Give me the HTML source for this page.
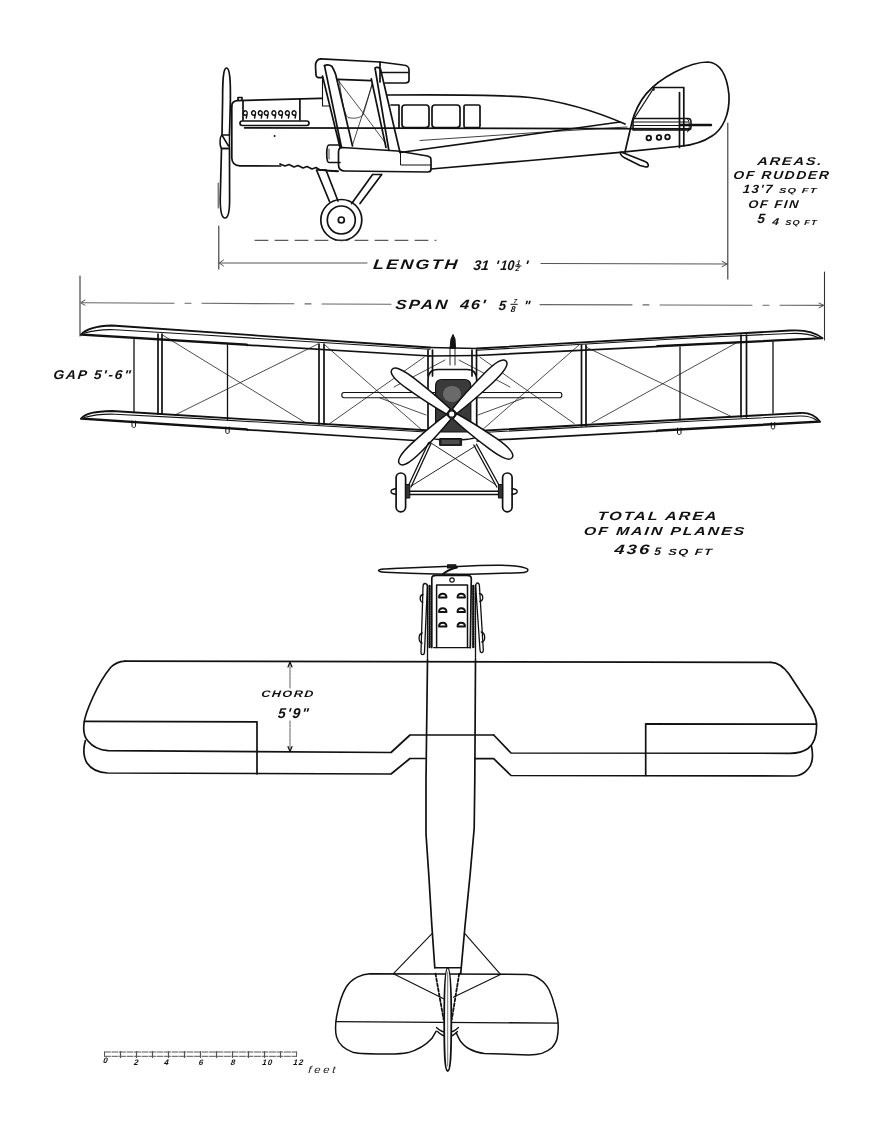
<!DOCTYPE html>
<html><head><meta charset="utf-8"><title>Biplane three-view</title>
<style>
html,body{margin:0;padding:0;background:#fff;}
body{width:881px;height:1132px;overflow:hidden;}
svg{display:block;will-change:transform;}
text{font-family:"Liberation Sans",sans-serif;font-style:italic;fill:#111;}
.lbl text{stroke:none;font-weight:bold;letter-spacing:0.12em;}
.lbl .sc text{stroke:none;}
</style></head><body>
<svg width="881" height="1132" viewBox="0 0 881 1132">
<rect width="881" height="1132" fill="#fff"/>
<g fill="none" stroke="#111" stroke-width="1.7" stroke-linejoin="round" stroke-linecap="round">

<!-- ================= SIDE VIEW ================= -->
<g id="side">
<!-- propeller -->
<path d="M226.5,68 C229.8,68 230.6,80 230.4,100 L229.5,135 L222,135 L222.6,100 C222.6,80 223.2,68 226.5,68 Z"/>
<path d="M222,135 C219.5,137 219.5,146 221.5,148.5 L229.5,148.5 L229.5,135 M222.5,136 L228.5,146" stroke-width="1.5"/>
<path d="M221.5,148.5 L229.5,148.5 L229.6,200 C229.6,212 228,218 225,218 C221.5,218 220.3,212 220.2,200 Z"/>
<path d="M218.2,183 L218.2,208" stroke-width="0.8"/>
<!-- cowling / nose -->
<path d="M231.8,106 C231.8,102.5 233.5,101 237,100.6 L320,98.3 L322,98.3"/>
<path d="M238,100 L238,97.5 L242,97.5 L242,100"/>
<path d="M231.8,106 L231.8,157.7 C231.8,162.5 234.5,165.5 240,165.8 L280.6,166"/>
<path d="M280,164 L285,166 L289,164.5 L294,167 L298,165.5 L303,168 L307,166.5 L312,169 L316,167.5 L320,170 L330,171 L338,171.5"/>
<!-- exhaust panel -->
<path d="M243,101 L243,120 M299.9,99 L299.9,120"/>
<rect x="240" y="121" width="69" height="4.5" rx="2.2"/>
<g stroke-width="1.4">
<path d="M247.3,113 a2,2.2 0 1 0 -0.2,1 L246.3,118 M255.6,113 a2,2.2 0 1 0 -0.2,1 L254.6,118 M262.3,113 a2,2.2 0 1 0 -0.2,1 L261.3,118 M268.3,113 a2,2.2 0 1 0 -0.2,1 L267.3,118 M275.9,113 a2,2.2 0 1 0 -0.2,1 L274.9,118 M282.6,113 a2,2.2 0 1 0 -0.2,1 L281.6,118 M289.4,113 a2,2.2 0 1 0 -0.2,1 L288.4,118 M296.1,113 a2,2.2 0 1 0 -0.2,1 L295.1,118"/>
</g>
<circle cx="274.6" cy="135.9" r="1" fill="#111" stroke="none"/>
<!-- longeron -->
<path d="M244.6,127.8 L690,128.8"/>
<!-- fuselage top (rear) -->
<path d="M387,95 C440,94.5 500,95 530,97.5 C560,101 595,111 625,124"/>
<!-- fuselage bottom rear -->
<path d="M431,169 L530,160.5 L620,152.4 L682,146"/>
<!-- converging lines -->
<path d="M400,152.5 L530,134.5 L620,122"/>
<path d="M420,140.5 L540,132.3 L627,127" stroke-width="0.8"/>
<!-- windows -->
<path d="M391,105 L399,105 L399,128"/>
<rect x="402" y="105" width="27" height="22.5" rx="3"/>
<rect x="432" y="105" width="28" height="22.5" rx="3"/>
<rect x="464" y="105" width="16" height="22.5" rx="1.5"/>
<!-- upper wing -->
<path d="M321,58.8 C340,60 360,61 380,62 L403,65 C408,65.5 409,67 409,70 L409,80 C409,82 408,83 405,83 L385,83"/>
<path d="M380,62 L380,82 M380,72.5 L408,72.5"/>
<path d="M321,58.8 C317,59 315.5,62 315.5,66 L316,75 C316,77.5 318,78 322.5,77.5"/>
<path d="M338,79.4 L371,80.6"/>
<!-- struts -->
<path d="M324.5,65.6 C327,64.5 330,65 332,66.5 C334,70 336,74 336.5,78 L352.5,146"/>
<path d="M324.5,65.6 L341.5,147.5 M322.5,76 L340,147.5"/>
<path d="M375,68 C376,67 379,67 380.5,69 L400,152.5 M375,68 L388.8,150 M371.3,78.8 L386,147.5"/>
<path d="M322.5,77.5 L322.5,106 L329,106" stroke-width="1.1"/>
<!-- wires -->
<g stroke-width="0.75">
<path d="M336,77.5 L363.8,113.8 L385,142.5"/>
<path d="M372.5,83.8 L352.5,145"/>
<path d="M339,80 C342,100 344,114 348,117.5 C354,119 360,118 363,115 C366,106 369,95 372,84"/>
</g>
<!-- engine cylinder -->
<path d="M340,145 L329,145 C326,145 326,162.5 329,162.5 L340,162.5"/>
<path d="M329,149 L329,159" stroke-width="0.8"/>
<!-- lower wing -->
<path d="M342.5,147.5 L397.5,151 L427.5,156 C431,157 431,158 431,161 L431,169 C431,171 430,172 428,172 L345,171 C340,171 338.5,169 338.5,165 L338.5,152 C338.5,149 340,147.5 342.5,147.5 Z"/>
<path d="M400.5,153 L400.5,165 L431,165" stroke-width="1"/>
<path d="M338,171 L320,170" />
<!-- undercarriage -->
<path d="M316.5,170 L329.5,201.5 M326,170 L338,201 M316.5,170 L326,170"/>
<path d="M372.6,174.5 L351.7,203.5 M381.7,174.5 L360,203.5 M372.6,174.5 L381.7,174.5"/>
<circle cx="341.3" cy="220" r="20.5"/>
<circle cx="341.3" cy="220" r="14"/>
<circle cx="341.3" cy="220" r="3"/>
<!-- ground dashes -->
<path d="M255,240.3 L436,240.3" stroke-dasharray="13,7" stroke-width="1" stroke="#333"/>
<!-- rudder & fin -->
<path d="M625,152 L632,122 C638,100 650,85 675,72 C690,64 700,62 708,62 C720,63 727,75 729,95 C730,115 722,130 712,136 C703,142 692,145 682,146"/>
<path d="M653.8,90 L653.8,87.5 L683.8,87.5 L683.8,146 M679.5,92.5 L679.5,147.5"/>
<path d="M653.5,88.5 L632.5,121" stroke-width="1.3"/>
<path d="M633,118.5 L688,118.5 C690,118.5 691,120 691,122 L691,127 C691,129 690,130 688,130 L633,130 Z" stroke-width="1.6"/>
<path d="M634,122 L688,122 M634,125.5 L688,125.5" stroke-width="1.2"/>
<path d="M680,125 L711,125" stroke-width="2.4"/>
<path d="M687.5,119 C690,119 690,132 687.5,132" stroke-width="1"/>
<g stroke-width="1.8"><circle cx="648.8" cy="138" r="2.3"/>
<circle cx="659" cy="137.5" r="2.3"/>
<circle cx="667.5" cy="137" r="2.3"/></g>
<!-- tail skid -->
<path d="M621,152 L645,161.5 C649,163 649.5,167 646,167 L640,165.5 L625,158 C621,156 619.5,153 621,152 Z" fill="#fff" stroke-width="1.6"/>
</g>

<!-- dimension lines (side) -->
<g stroke-width="1.1" stroke="#333">
<path d="M218.8,226 L218.8,269"/>
<path d="M727.8,123 L727.8,279"/>
</g>
<g stroke-width="1" stroke="#555">
<path d="M219,263 L367,263 M541,263.5 L727,264"/>
<path d="M223.5,260 L219.3,263 L223.5,266 M722,261.3 L727.3,264 L722,266.7"/>
</g>

<!-- ================= FRONT VIEW ================= -->
<g id="front">
<!-- span dimension -->
<path d="M80,276 L80,336 M824.5,272 L824.5,340" stroke-width="1.1" stroke="#333"/>
<path d="M82,302.7 L391,304.3 M540,304.6 L824,305.4" stroke-width="1.1" stroke="#666" stroke-dasharray="92,11,6,11"/>
<path d="M85,300 L80.5,302.7 L85,305.2 M819,303 L823.8,305.4 L819,307.8" stroke-width="1" stroke="#555"/>
<!-- upper wing left -->
<path d="M81,334.5 C86,329 95,326 112,325.5 L430,347.5" stroke-width="1.8"/>
<path d="M84,333.3 C95,330 105,329.3 115,329.8 L200,334.8 L430,349.3" stroke-width="1.1"/>
<path d="M81,335 L430,356"/>
<path d="M83,334.2 L247,344.2 L247.5,345.6" stroke-width="1.5"/>
<!-- upper center -->
<path d="M430,347.5 L477,348.5 M430,356 L477,355.5"/>
<!-- upper wing right -->
<path d="M477,348.5 L790,330.5 C805,329.5 815,332 822.5,338.2" stroke-width="1.8"/>
<path d="M477,350.3 L700,337.5 L790,333.5 C800,333 810,334 818,337.5" stroke-width="1.1"/>
<path d="M477,355.5 L822,338.4"/>
<path d="M657,346 L657,345.8 L820,338" stroke-width="1.5"/>
<!-- lower wing left -->
<path d="M81,418.5 C86,413 95,411.5 112,411 L430,430.5" stroke-width="1.8"/>
<path d="M84,417.5 C95,414.5 105,413.8 115,414.2 L200,418.6 L430,432.3" stroke-width="1.1"/>
<path d="M81,419 L430,441.5"/>
<path d="M83,418.3 L247,428.9 L247.5,430.3" stroke-width="1.5"/>
<!-- lower wing right -->
<path d="M477,431 L800,413 C808,412.5 815,415 820,421.5" stroke-width="1.8"/>
<path d="M477,432.8 L700,420.8 L800,416 C808,415.8 813,417.5 817,420.5" stroke-width="1.1"/>
<path d="M477,441 L820,422"/>
<path d="M656.5,431.5 L657,430.2 L818,421.2" stroke-width="1.5"/>
<!-- interplane struts -->
<path d="M158,334 L158,414 M162,334 L162,414"/>
<path d="M319,344 L319,424 M324,344 L324,424"/>
<path d="M581.5,345 L581.5,426 M586,345 L586,426"/>
<path d="M741,335 L741,417 M746.5,335 L746.5,417"/>
<path d="M134,339.5 L134,412.5 M227.5,345 L227.5,420 M680,346.8 L680,420 M773,341.6 L773,413" stroke-width="1.3"/>
<!-- fittings under lower wing -->
<path d="M132,421 L132,426 C132,428 135.5,428 135.5,426 L135.5,421 M225.8,427 L225.8,432 C225.8,434 229.2,434 229.2,432 L229.2,427 M677.5,428 L677.5,433 C677.5,435 681,435 681,433 L681,428 M771.3,422.5 L771.3,427.5 C771.3,429.5 774.7,429.5 774.7,427.5 L774.7,422.5" stroke-width="1"/>
<!-- wires -->
<g stroke-width="0.75">
<path d="M162.5,335 L305,422.4 M175,415 L318,344"/>
<path d="M585.4,346.8 L731.6,416.7 M591.8,423 L738,342"/>
<path d="M325.3,345.3 L421.2,429.4 M329.8,423.5 L424.2,357.1 M394,387 L445,360 M380,398 L426,415"/>
<path d="M578.7,345.3 L482.8,429.4 M574.2,423.5 L479.8,357.1 M510,387 L459,360 M524,398 L478,415"/>
</g>
<!-- tailplane -->
<path d="M344,392.5 L560,392.5 C562.5,392.5 562.5,397.7 560,397.7 L344,397.7 C341,397.7 341,392.5 344,392.5 Z" stroke-width="1.1"/>
<!-- fin top -->
<path d="M450,348 L451,339 L453,334.5 L455,339 L455.5,348 Z" fill="#111" stroke-width="1"/>
<path d="M450,348 L450,365 M455,348 L455,365" stroke-width="0.9"/>
<!-- cabane -->
<path d="M428,350 L428,376 M432.5,350 L432.5,376 M472,350 L472,376 M476.5,350 L476.5,376"/>
<!-- engine front -->
<path d="M428,436.7 L428,380 C428,373 432,369.5 438,369.5 L467,369.5 C473,369.5 476.7,373 476.7,380 L476.7,436.7"/>
<path d="M435.6,432 L435.6,386 C435.6,381 438,379.5 442,379.5 L464,379.5 C468.5,379.5 470.8,381 470.8,386 L470.8,432 Z" fill="#3a3a3a" stroke-width="1.2"/>
<ellipse cx="452" cy="394" rx="9" ry="8" fill="#6a6a6a" stroke="none"/>
<path d="M428,436.7 C432,441 472,441 476.7,436.7" stroke-width="1.4"/>
<path d="M440,438.5 L461.6,438.5 L461.6,445.4 L440,445.4 Z" fill="#222" stroke-width="1"/>
<path d="M442,441 L459,441 M442,443 L459,443" stroke="#bbb" stroke-width="0.6"/>
<!-- propeller (front) -->
<g fill="#fff" stroke-width="1.5">
<path transform="translate(451.7,414) rotate(216.6)" d="M4,-3.2 C15,-4.6 30,-5.8 50.5,-6.3 C66.5,-6.6 74.5,-4.5 74.5,0 C74.5,4.5 66.5,6.6 50.5,6.3 C30,5.8 15,4.6 4,3.2 Z"/>
<path transform="translate(451.7,414) rotate(-44.3)" d="M4,-3.2 C15,-4.6 30,-5.8 51.9,-6.3 C67.9,-6.6 75.9,-4.5 75.9,0 C75.9,4.5 67.9,6.6 51.9,6.3 C30,5.8 15,4.6 4,3.2 Z"/>
<path transform="translate(451.7,414) rotate(136.3)" d="M4,-3.2 C15,-4.6 30,-5.8 48.1,-6.3 C64.1,-6.6 72.1,-4.5 72.1,0 C72.1,4.5 64.1,6.6 48.1,6.3 C30,5.8 15,4.6 4,3.2 Z"/>
<path transform="translate(451.7,414) rotate(35.8)" d="M4,-3.2 C15,-4.6 30,-5.8 50.6,-6.3 C66.6,-6.6 74.6,-4.5 74.6,0 C74.6,4.5 66.6,6.6 50.6,6.3 C30,5.8 15,4.6 4,3.2 Z"/>
</g>
<circle cx="451.7" cy="414" r="3.2" fill="#fff" stroke-width="1.2"/>
<!-- landing gear -->
<path d="M408,491.3 L501,491.3 M408,494.4 L501,494.4" stroke-width="1.5"/>
<path d="M408.3,486 L428.5,442.7 M411,487 L431,443.5 M499.5,486 L476.5,444.3 M496.8,487 L473.8,445" stroke-width="1.3"/>
<path d="M412,485.6 L475.6,445.9 M429.5,442 L494.6,484" stroke-width="0.9"/>
<rect x="396.1" y="473" width="9.5" height="38.8" rx="4.75" fill="#fff"/>
<rect x="502.6" y="473" width="9.5" height="38.8" rx="4.75" fill="#fff"/>
<path d="M396,488.5 L392.5,489.5 C390.5,490 390.5,493 392.5,493.5 L396,494.5 M512.2,488.5 L515.7,489.5 C517.7,490 517.7,493 515.7,493.5 L512.2,494.5" stroke-width="1.4"/>
<path d="M406,484.5 L409.8,484.5 L409.8,498 L406,498 Z M502.2,484.5 L498.4,484.5 L498.4,498 L502.2,498 Z" fill="#333" stroke-width="1"/>
</g>

<!-- ================= TOP VIEW ================= -->
<g id="top">
<!-- propeller -->
<path d="M378.6,570.5 C379,569 385,568.8 400,568.2 L444,566.5 L458,566.5 C475,565.5 490,565 502,565.2 C515,565.5 524,566.5 527.6,569 C528.5,571 527,572.5 520,572.8 L470,574.3 L460,574.3 L435,574 C415,573.6 395,572.8 385,572.3 C380,572 378.6,571.5 378.6,570.5 Z" stroke-width="1.5"/>
<path d="M447.6,568 L447.6,564.8 L455.8,564.8 L455.8,568 Z" fill="#222" stroke-width="1.2"/>
<path d="M443,574 C446,571.5 450,569 457,567.5" stroke-width="1.8"/>
<!-- cowling -->
<path d="M431.8,647.6 L431.8,578 C432,576 433,575.3 436,575.3 L467,575.3 C469.5,575.3 471.3,576.3 471.3,578.5 L470.3,647.6"/>
<path d="M433.7,647.6 L470.3,647.6" stroke-width="1.3"/>
<path d="M436.6,647.6 L436.6,585 L467.5,585 L467.5,647.6" stroke-width="1.5"/>
<circle cx="452" cy="580" r="2.2" stroke-width="1.2"/>
<!-- exhaust stubs top view -->
<g stroke-width="1.9">
<path d="M439,597.5 C439,592.5 446.5,592.5 446.5,597.5 Z M457.5,597.5 C457.5,592.5 465,592.5 465,597.5 Z"/>
<path d="M439,612 C439,607 446.5,607 446.5,612 Z M457.5,612 C457.5,607 465,607 465,612 Z"/>
<path d="M439,626.5 C439,621.5 446.5,621.5 446.5,626.5 Z M457.5,626.5 C457.5,621.5 465,621.5 465,626.5 Z"/>
</g>
<!-- side strips dotted -->
<path d="M429.6,586 L429.6,647 M473.3,586 L473.3,647" stroke-width="2.4" stroke-dasharray="1.3,1.2"/>
<path d="M427.5,585 L427.5,660 M475.5,585 L475.5,660" stroke-width="1.3"/>
<!-- outboard struts -->
<path d="M425,583.5 C427,583.5 427.5,585 427.3,588 L424.5,652 C424.3,655.5 421,655.5 421,652 L423,587 C423,585 423.5,583.5 425,583.5 Z" stroke-width="1.3"/>
<path d="M477.5,583 C476,583 475.5,585 475.8,588 L480,650 C480.3,653.5 483.5,653.5 483.3,650 L479.5,587 C479.5,585 479,583 477.5,583 Z" stroke-width="1.3"/>
<path d="M423,594.5 C419.5,595 419,601 422.7,602.5 M422.2,633 C418.2,634 418,642 422,643 M479.4,593.5 C483.5,594 484,600.5 479.9,601.5 M481.2,632 C485.5,633 486,641 481.8,642" stroke-width="1.3"/>
<!-- wing leading edge -->
<path d="M125.2,661.1 L770.8,662.3"/>
<!-- left wing tip & trailing edges -->
<path d="M125.2,661.1 C119,661.5 115,663 111,667 C106,673 98,686 93,697 C88,708 85,716 84.2,722 C83,730 84,737 88,741 C92,746 99,750 108,750.6 L391,752.5 L410,735 L493.7,735"/>
<path d="M85.3,740.7 C83.3,748 83.5,757 87,763 C91,769 97,772.5 107.5,773 L391,774 L410,758.5 L425,758.5"/>
<path d="M84.4,721.3 L257,721.8 L257,774"/>
<!-- right wing -->
<path d="M770.8,662.3 C778,662.5 784,667 789,674 L812,709 C815,715 816.6,720 816.6,726 C816.6,736 814,744 808,748.5 C803,752 797,753.3 790,753.3 L511,753 L493.7,735"/>
<path d="M811.4,746 C813.3,754 813,764 808,769 C804,774 800,775.8 794,776 L511,775.5 L493.7,758.7 L475,758.7"/>
<path d="M816.5,724.2 L645.7,723.8 L645.7,775.5"/>
<!-- chord dimension -->
<path d="M290,663 L290,688 M290,721 L290,751" stroke-width="0.8" stroke="#333" stroke-dasharray="2.5,1"/>
<path d="M288,667 L290,662 L292,667 M288,746.5 L290,751.5 L292,746.5" stroke-width="1.2"/>
<!-- fuselage -->
<path d="M427.5,660 L426,780 L426,834 L428.9,876.5 L431.8,925 L434.8,967.8"/>
<path d="M475.5,660 L474.8,780 L474.2,828 L470.3,872.6 L465.1,925 L460.7,973.7"/>
<!-- tail struts -->
<path d="M393.4,973.7 L431.8,933.9 M500.5,974.4 L465.1,933.9" stroke-width="1.1"/>
<path d="M393.4,973.7 L443.6,998.8 M500.5,974.4 L453.3,997.3" stroke-width="1.1"/>
<!-- tailplane -->
<path d="M434.8,967.8 L460.7,967.8" stroke-width="1.5"/>
<g stroke-width="1.5">
<path d="M436.2,1031.2 L431.8,1038.6 C425,1046 416,1050.5 408.2,1052.6 C404,1053.5 398,1054.1 389,1054.1 C370,1054.1 360,1054 353.6,1052.6 C344,1049 338.5,1044 336.6,1037.1 C335,1031 335.5,1023 336.6,1016.5 C338.5,1006 342,994 346.2,987 C352,978 362,974 369.8,973.7 L527,974.4 C531,974.5 536,976 540.3,979.6 C543.5,981.5 546.5,985 549.2,990 C551.5,995 553.5,1001 555.1,1007.6 C556.5,1012 557.5,1016 558,1022.4 C558.3,1026 558.3,1032 557.3,1037.1 C557,1040.5 555,1044 552.1,1047.5 C549.5,1050 546,1052 541.8,1053.4 C538,1054.5 534,1054.9 528.5,1054.9 L484.3,1053.4 C479,1053 474,1051.5 469.5,1049 C466,1047.5 463.5,1045 460.7,1041.6 C459,1039 458,1037 456.2,1032.7"/>
<path d="M336,1021.6 L558,1023.1" stroke-width="1.3"/>
</g>
<path d="M435.5,973.7 L443.6,1019.4 M459.2,973.7 L451.8,1019.4" stroke-width="1.8" stroke-dasharray="3,2"/>
<!-- skid bracket -->
<path d="M436.5,1027.5 C440,1031 443,1032.5 447.7,1032.5 C452,1032.5 455,1031 458.4,1027.5 M437.5,1031.5 C441,1035 444,1036.5 447.7,1036.5 C451.5,1036.5 454.5,1035 457.5,1031.5" stroke-width="1.3"/>
<!-- rudder top view -->
<path d="M447.7,967.8 C450.5,967.8 451.3,990 451.3,1020 C451.3,1050 450.8,1071 447.7,1071 C444.6,1071 444.2,1050 444.2,1020 C444.2,990 444.9,967.8 447.7,967.8 Z" fill="#fff" stroke-width="1.8"/>
<path d="M447.7,972 L447.7,1066" stroke-width="0.8" stroke="#555"/>
</g>

<!-- scale bar -->
<g stroke-width="1" stroke="#555">
<path d="M104.5,1052 L296.6,1052 M104.5,1056.3 L296.6,1056.3 M104.5,1052 L104.5,1056.3 M296.6,1052 L296.6,1056.3" stroke-dasharray="6,1.5"/>
<path d="M120.5,1051.5 L120.5,1057.5 M136.5,1051.5 L136.5,1057.5 M152.5,1051.5 L152.5,1057.5 M168.5,1051.5 L168.5,1057.5 M184.5,1051.5 L184.5,1057.5 M200.5,1051.5 L200.5,1057.5 M216.5,1051.5 L216.5,1057.5 M232.5,1051.5 L232.5,1057.5 M248.5,1051.5 L248.5,1057.5 M264.5,1051.5 L264.5,1057.5 M280.5,1051.5 L280.5,1057.5" stroke-width="1.2"/>
</g>
</g>

<!-- ================= TEXT ================= -->
<g class="lbl">
<text transform="translate(372.7,269.3) skewX(-6)" x="0" y="0" font-size="13.8" textLength="86.5" lengthAdjust="spacingAndGlyphs">LENGTH</text>
<text transform="translate(473,269.8) skewX(-6)" x="0" y="0" font-size="14" style="letter-spacing:0" textLength="15.6" lengthAdjust="spacingAndGlyphs">31</text>
<text transform="translate(495,269.8) skewX(-6)" x="0" y="0" font-size="14" style="letter-spacing:0">'</text>
<text transform="translate(500,269.8) skewX(-6)" x="0" y="0" font-size="14" style="letter-spacing:0" textLength="13.8" lengthAdjust="spacingAndGlyphs">10</text>
<text transform="translate(516.2,264.8) skewX(-6)" x="0" y="0" font-size="7" style="letter-spacing:0">1</text>
<text transform="translate(515.2,271) skewX(-6)" x="0" y="0" font-size="7.5" style="letter-spacing:0">2</text>
<text transform="translate(524.5,269.8) skewX(-6)" x="0" y="0" font-size="14" style="letter-spacing:0">'</text>
<path d="M515,266 L521.5,266" stroke="#111" stroke-width="0.9"/>
<text transform="translate(395,309.2) skewX(-6)" x="0" y="0" font-size="13.3" textLength="54" lengthAdjust="spacingAndGlyphs">SPAN</text>
<text transform="translate(459.8,309.4) skewX(-6)" x="0" y="0" font-size="13.3" style="letter-spacing:0.1em" textLength="27" lengthAdjust="spacingAndGlyphs">46'</text>
<text transform="translate(498.2,309.6) skewX(-6)" x="0" y="0" font-size="13.6" style="letter-spacing:0">5</text>
<text transform="translate(513.5,302.6) skewX(-6)" x="0" y="0" font-size="5.8" style="letter-spacing:0">7</text>
<text transform="translate(510.6,311.9) skewX(-6)" x="0" y="0" font-size="8.5" style="letter-spacing:0">8</text>
<text transform="translate(523.5,309.6) skewX(-6)" x="0" y="0" font-size="13.3" style="letter-spacing:0">"</text>
<path d="M510.5,304.3 L517.7,304.3" stroke="#111" stroke-width="1"/>
<text transform="translate(53,379) skewX(-6)" x="0" y="0" font-size="12.8" textLength="79" lengthAdjust="spacingAndGlyphs">GAP 5'-6"</text>
<text transform="translate(756.9,165) skewX(-6)" x="0" y="0" font-size="11.3" textLength="66" lengthAdjust="spacingAndGlyphs">AREAS.</text>
<text transform="translate(733.1,179.4) skewX(-6)" x="0" y="0" font-size="11.6" textLength="97" lengthAdjust="spacingAndGlyphs">OF RUDDER</text>
<text transform="translate(742.5,193.1) skewX(-6)" x="0" y="0" font-size="12" textLength="31" lengthAdjust="spacingAndGlyphs">13'7</text>
<text transform="translate(778.7,193.1) skewX(-6)" x="0" y="0" font-size="7.2" textLength="38.8" lengthAdjust="spacingAndGlyphs">SQ FT</text>
<text transform="translate(748,208.1) skewX(-6)" x="0" y="0" font-size="11.3" textLength="51.5" lengthAdjust="spacingAndGlyphs">OF FIN</text>
<text transform="translate(756.9,223.1) skewX(-6)" x="0" y="0" font-size="13.4" textLength="9.3" lengthAdjust="spacingAndGlyphs">5</text>
<text transform="translate(771.9,225) skewX(-6)" x="0" y="0" font-size="10" textLength="8.1" lengthAdjust="spacingAndGlyphs">4</text>
<text transform="translate(785,225) skewX(-6)" x="0" y="0" font-size="7.2" textLength="32.5" lengthAdjust="spacingAndGlyphs">SQ FT</text>
<text transform="translate(597.2,519.5) skewX(-6)" x="0" y="0" font-size="12.1" textLength="121" lengthAdjust="spacingAndGlyphs">TOTAL AREA</text>
<text transform="translate(583.6,534.6) skewX(-6)" x="0" y="0" font-size="11.5" textLength="162" lengthAdjust="spacingAndGlyphs">OF MAIN PLANES</text>
<text transform="translate(614,554.2) skewX(-6)" x="0" y="0" font-size="13.6" textLength="37" lengthAdjust="spacingAndGlyphs">436</text>
<text transform="translate(654,555) skewX(-6)" x="0" y="0" font-size="11" textLength="8" lengthAdjust="spacingAndGlyphs">5</text>
<text transform="translate(668,555) skewX(-6)" x="0" y="0" font-size="9" textLength="45" lengthAdjust="spacingAndGlyphs">SQ FT</text>
<text transform="translate(261,697.3) skewX(-6)" x="0" y="0" font-size="9.5" textLength="53.5" lengthAdjust="spacingAndGlyphs">CHORD</text>
<text transform="translate(277.5,717.5) skewX(-6)" x="0" y="0" font-size="14.2" textLength="32.5" lengthAdjust="spacingAndGlyphs">5'9"</text>
<g font-size="8" fill="#333" class="sc">
<text transform="translate(103,1063) skewX(-6)" x="0" y="0">0</text><text transform="translate(133.8,1064.5) skewX(-6)" x="0" y="0">2</text><text transform="translate(164,1064.5) skewX(-6)" x="0" y="0">4</text><text transform="translate(198.5,1064.5) skewX(-6)" x="0" y="0">6</text><text transform="translate(230.5,1064.5) skewX(-6)" x="0" y="0">8</text><text transform="translate(262,1064.5) skewX(-6)" x="0" y="0">10</text><text transform="translate(293,1064.5) skewX(-6)" x="0" y="0">12</text>
</g>
<text transform="translate(308,1073) skewX(-6)" x="0" y="0" font-size="10" fill="#777" style="stroke:none;letter-spacing:0.25em;font-weight:normal" textLength="30" lengthAdjust="spacingAndGlyphs">feet</text>
</g>
</svg>
</body></html>
